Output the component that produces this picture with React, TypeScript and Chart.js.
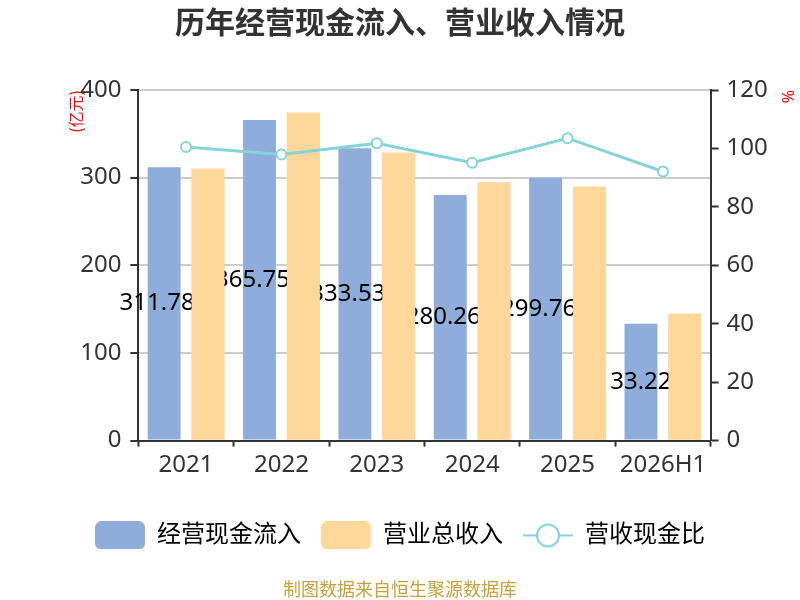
// Cash inflow vs revenue chart
import { useEffect, useRef } from 'react';
import { Chart, registerables } from 'chart.js';

Chart.register(...registerables);

const years = ['2021', '2022', '2023', '2024', '2025', '2026H1'];
const cashIn = [311.78, 365.75, 333.53, 280.26, 299.76, 133.22];
const revenue = [310.1, 374.1, 328.3, 294.6, 289.5, 144.8];
const ratio = [100.5, 97.9, 101.8, 95.1, 103.5, 92.1];
const legendNames = ['经营现金流入', '营业总收入', '营收现金比'];

const BLUE = '#8eaddb';
const ORANGE = '#fed89a';
const TEAL = '#84d4d8';
const FONT = '"Noto Sans", "Noto Sans CJK SC", sans-serif';

function makeBox(color: string) {
  const c = document.createElement('canvas');
  c.width = 50;
  c.height = 28;
  const ctx = c.getContext('2d')!;
  ctx.fillStyle = color;
  ctx.beginPath();
  ctx.roundRect(0, 0, 50, 28, 6);
  ctx.fill();
  return c;
}

function makeLineIcon() {
  const c = document.createElement('canvas');
  c.width = 50;
  c.height = 28;
  const ctx = c.getContext('2d')!;
  ctx.strokeStyle = TEAL;
  ctx.lineWidth = 2;
  ctx.beginPath();
  ctx.moveTo(0, 14);
  ctx.lineTo(50, 14);
  ctx.stroke();
  ctx.fillStyle = '#fff';
  ctx.beginPath();
  ctx.arc(25, 14, 11, 0, Math.PI * 2);
  ctx.fill();
  ctx.stroke();
  return c;
}

// labels of the blue bars; the orange bars are drawn again on top of them afterwards
const barLabels = {
  id: 'barLabels',
  afterDatasetDraw(chart: any, args: any) {
    if (args.index !== 0) return;
    const ctx = chart.ctx;
    ctx.save();
    ctx.font = '24px ' + FONT;
    ctx.fillStyle = '#000';
    ctx.textAlign = 'center';
    ctx.textBaseline = 'middle';
    args.meta.data.forEach((bar: any, i: number) => {
      const { x, y, base } = bar.getProps(['x', 'y', 'base'], true);
      ctx.fillText(cashIn[i].toFixed(2), x - 7, (y + base) / 2);
    });
    ctx.restore();
    chart.getDatasetMeta(1).controller.draw();
  }
};

export default function App() {
  const canvasRef = useRef<HTMLCanvasElement>(null);

  useEffect(() => {
    if (!canvasRef.current) return;
    const icons = [makeBox(BLUE), makeBox(ORANGE), makeLineIcon()];

    const chart = new Chart(canvasRef.current, {
      type: 'bar',
      data: {
        labels: years,
        datasets: [
          {
            label: legendNames[0],
            data: cashIn,
            backgroundColor: BLUE,
            yAxisID: 'y',
            order: 1,
            categoryPercentage: 0.92,
            barPercentage: 0.75
          },
          {
            label: legendNames[1],
            data: revenue,
            backgroundColor: ORANGE,
            yAxisID: 'y',
            order: 2,
            categoryPercentage: 0.92,
            barPercentage: 0.75
          },
          {
            type: 'line',
            label: legendNames[2],
            data: ratio,
            yAxisID: 'y1',
            order: 0,
            borderColor: TEAL,
            borderWidth: 3,
            pointRadius: 5,
            pointBackgroundColor: '#fff',
            pointBorderColor: TEAL,
            pointBorderWidth: 2,
            tension: 0
          } as any
        ]
      },
      options: {
        responsive: false,
        animation: false,
        layout: { padding: 0 },
        plugins: {
          title: {
            display: true,
            text: '历年经营现金流入、营业收入情况',
            color: '#333',
            font: { size: 30, weight: 'bold', family: '"Noto Sans CJK SC", sans-serif' },
            padding: { top: 4, bottom: 50 }
          },
          subtitle: {
            display: true,
            position: 'bottom',
            text: '制图数据来自恒生聚源数据库',
            color: '#c9a03c',
            font: { size: 18, family: '"Noto Sans CJK SC", sans-serif' },
            padding: { top: 21, bottom: 0 }
          },
          legend: {
            position: 'bottom',
            labels: {
              usePointStyle: true,
              pointStyleWidth: 50,
              boxHeight: 28,
              padding: 20,
              color: '#333',
              font: { size: 24, family: FONT },
              generateLabels: () =>
                legendNames.map((text, i) => ({
                  text,
                  pointStyle: icons[i],
                  fillStyle: 'transparent',
                  strokeStyle: 'transparent',
                  lineWidth: 0,
                  hidden: false,
                  datasetIndex: i
                })) as any
            }
          },
          tooltip: { enabled: false }
        },
        scales: {
          x: {
            grid: { drawOnChartArea: false, tickLength: 6, tickColor: '#333', tickWidth: 2 },
            border: { color: '#333', width: 2 },
            ticks: { color: '#333', font: { size: 24, family: FONT }, padding: 4 },
            afterFit: (scale: any) => { scale.height += 20; }
          },
          y: {
            position: 'left',
            min: 0,
            max: 400,
            ticks: { stepSize: 100, color: '#333', font: { size: 24, family: FONT }, padding: 9 },
            grid: { color: '#cccccc', lineWidth: 2, tickLength: 8, tickColor: '#333', tickWidth: 2 },
            border: { color: '#333', width: 2 },
            title: {
              display: true,
              text: '(亿元)',
              align: 'end',
              color: '#ff0000',
              font: { size: 16, family: '"Noto Sans CJK SC", sans-serif' },
              padding: { top: 66, bottom: -14 }
            }
          },
          y1: {
            position: 'right',
            min: 0,
            max: 120,
            ticks: { stepSize: 20, color: '#333', font: { size: 24, family: FONT }, padding: 8 },
            grid: { drawOnChartArea: false, tickLength: 8, tickColor: '#333', tickWidth: 2 },
            border: { color: '#333', width: 2 },
            title: {
              display: true,
              text: '%',
              align: 'end',
              color: '#ff0000',
              font: { size: 16, family: FONT },
              padding: { top: 4, bottom: 1 }
            }
          }
        }
      },
      plugins: [barLabels]
    });

    return () => chart.destroy();
  }, []);

  return (
    <div style={{ position: 'absolute', left: 0, top: 0, width: 800, height: 600, background: '#fff' }}>
      <canvas ref={canvasRef} width={800} height={600}></canvas>
    </div>
  );
}
